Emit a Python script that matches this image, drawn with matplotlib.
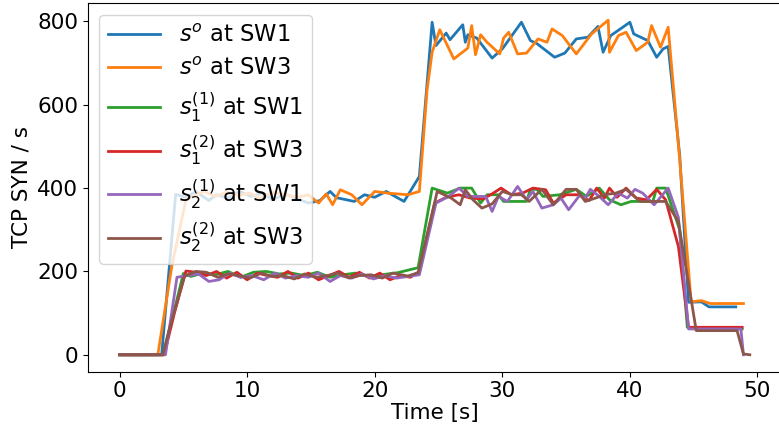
import matplotlib
matplotlib.use("Agg")
import matplotlib.pyplot as plt

# s^o at SW1
t_so_sw1 = [0, 1, 2, 3.3, 4.4, 5.2, 6.0, 7.0, 7.6, 8.5, 9.4, 10.3, 11.2, 12.0, 13.0, 13.8,
            14.8, 15.7, 16.5, 17.0, 18.4, 19.2, 20.0, 20.9, 22.3, 23.5, 24.5, 24.8, 25.6,
            25.9, 26.9, 27.1, 27.3, 28.0, 29.2, 30.0, 31.5, 32.2, 32.7, 34.1, 34.9, 35.8,
            36.7, 37.5, 37.9, 38.5, 40.0, 40.3, 41.4, 42.1, 42.6, 43.0, 43.9, 44.6, 45.6,
            46.2, 48.3]
v_so_sw1 = [0, 0, 0, 0, 385, 378, 392, 370, 384, 376, 392, 380, 388, 372, 386, 376,
            364, 370, 392, 377, 368, 384, 378, 392, 368, 428, 798, 742, 772,
            756, 792, 750, 768, 760, 712, 734, 798, 754, 747, 714, 724, 758,
            762, 788, 726, 766, 798, 770, 754, 714, 734, 740, 480, 126, 127,
            115, 115]

# s^o at SW3
t_so_sw3 = [0, 1, 2, 3.0, 4.1, 5.2, 6.6, 7.5, 8.4, 9.3, 10.2, 11.0, 12.0, 13.0, 14.0,
            14.8, 15.6, 16.2, 16.7, 17.3, 18.2, 19.0, 20.0, 21.0, 22.6, 23.5, 24.1, 24.5,
            25.1, 26.2, 27.3, 27.6, 27.9, 28.3, 28.8, 29.8, 30.1, 30.5, 31.2, 31.9, 32.8,
            33.5, 33.9, 34.7, 35.8, 37.0, 38.3, 38.4, 39.1, 39.7, 40.5, 41.4, 41.7, 42.4,
            43.0, 43.9, 44.8, 45.6, 46.3, 48.9]
v_so_sw3 = [0, 0, 0, 0, 213, 372, 392, 380, 390, 382, 388, 376, 390, 384, 378,
            384, 364, 386, 360, 396, 384, 360, 392, 388, 384, 392, 635, 726,
            780, 710, 736, 790, 720, 768, 750, 722, 760, 774, 722, 724, 758,
            750, 782, 766, 722, 770, 803, 726, 766, 774, 730, 750, 790, 738,
            786, 470, 127, 130, 123, 123]

# s_1^(1) at SW1
t_s11 = [0, 1, 2, 3.4, 4.0, 5.0, 5.6, 6.5, 7.5, 8.5, 9.5, 10.5, 11.5, 12.5, 13.5, 14.5,
         15.5, 16.5, 17.5, 18.5, 19.5, 20.5, 21.8, 23.4, 24.5, 25.7, 26.7, 27.6, 28.3,
         28.8, 29.7, 30.1, 31.9, 32.2, 32.7, 33.2, 34.5, 35.8, 36.6, 37.6, 38.4, 39.3,
         40.1, 41.8, 42.1, 42.8, 43.9, 44.5, 45.5, 48.8]
v_s11 = [0, 0, 0, 0, 70, 195, 188, 196, 192, 200, 186, 198, 200, 194, 196, 190,
         198, 186, 192, 196, 188, 192, 197, 209, 400, 388, 400, 400, 364,
         384, 384, 368, 368, 397, 397, 380, 384, 397, 380, 400, 372, 360,
         368, 368, 400, 400, 300, 66, 62, 62]

# s_1^(2) at SW3
t_s12 = [0, 1, 2, 3.5, 4.3, 5.2, 6.0, 6.8, 7.6, 8.4, 9.2, 10.0, 10.8, 11.6, 12.4, 13.2,
         14.0, 14.8, 15.6, 16.4, 17.2, 18.0, 18.8, 19.6, 20.4, 21.2, 22.0, 22.8, 23.5,
         24.7, 25.6, 26.6, 27.5, 28.5, 29.3, 29.9, 30.7, 31.6, 32.4, 33.4, 34.0, 35.0,
         36.0, 36.8, 37.4, 38.0, 38.4, 39.0, 39.7, 40.5, 41.3, 42.1, 42.8, 43.8, 44.6,
         45.6, 48.8]
v_s12 = [0, 0, 0, 0, 100, 201, 198, 190, 200, 184, 198, 180, 196, 190, 186, 200,
         184, 196, 180, 190, 200, 186, 198, 184, 196, 180, 190, 186, 200,
         364, 378, 384, 376, 374, 388, 400, 384, 388, 400, 396, 364, 384,
         384, 370, 400, 376, 400, 378, 400, 376, 372, 397, 372, 260, 66,
         66, 66]

# s_2^(1) at SW1
t_s21 = [0, 1, 2, 3.6, 4.5, 5.3, 6.2, 7.0, 7.8, 8.6, 9.5, 10.4, 11.3, 12.2, 13.0, 13.9,
         14.8, 15.6, 16.5, 17.3, 18.2, 19.0, 19.9, 20.8, 21.7, 22.6, 23.5, 24.8, 25.8,
         26.6, 27.3, 28.7, 29.2, 29.7, 30.4, 31.2, 31.9, 32.4, 33.1, 34.0, 34.6, 35.2,
         36.1, 36.5, 36.9, 37.6, 38.3, 39.1, 39.8, 40.4, 41.0, 41.9, 43.0, 43.8, 44.6,
         45.6, 48.7, 48.9]
v_s21 = [0, 0, 0, 0, 186, 190, 194, 176, 180, 196, 186, 190, 180, 196, 184, 190,
         186, 196, 176, 190, 184, 194, 182, 190, 184, 188, 192, 364, 380,
         400, 380, 380, 344, 380, 368, 404, 372, 392, 352, 360, 376, 348,
         384, 376, 397, 380, 360, 388, 376, 397, 388, 360, 400, 330, 62,
         62, 62, 0]

# s_2^(2) at SW3
t_s22 = [0, 1, 2, 3.4, 3.9, 5.1, 6.0, 6.8, 7.7, 8.5, 9.4, 10.2, 11.1, 12.0, 12.8, 13.7,
         14.5, 15.4, 16.3, 17.1, 18.0, 18.8, 19.7, 20.6, 21.4, 22.6, 23.4, 24.9, 26.0,
         26.7, 27.1, 27.7, 28.4, 29.2, 30.0, 30.8, 31.5, 32.1, 33.1, 34.0, 35.0, 35.8,
         36.5, 37.3, 38.0, 38.9, 39.7, 40.8, 42.8, 43.8, 45.2, 48.4, 48.9, 49.4]
v_s22 = [0, 0, 0, 0, 62, 189, 200, 198, 186, 194, 190, 184, 196, 188, 190, 182,
         194, 186, 190, 196, 184, 190, 192, 184, 196, 189, 197, 392, 376,
         360, 396, 372, 352, 362, 392, 384, 384, 368, 397, 360, 397, 397,
         368, 376, 384, 388, 397, 368, 368, 320, 58, 58, 2, 0]

plt.rcParams['font.size'] = 15.5

fig = plt.figure(figsize=(7.79, 4.29), dpi=100)
ax = fig.add_subplot(111)
fig.subplots_adjust(left=0.113, right=1.003, bottom=0.134, top=0.992)

ax.plot(t_so_sw1, v_so_sw1, lw=2, label=r'$s^o$ at SW1')
ax.plot(t_so_sw3, v_so_sw3, lw=2, label=r'$s^o$ at SW3')
ax.plot(t_s11, v_s11, lw=2, label=r'$s_1^{(1)}$ at SW1')
ax.plot(t_s12, v_s12, lw=2, label=r'$s_1^{(2)}$ at SW3')
ax.plot(t_s21, v_s21, lw=2, label=r'$s_2^{(1)}$ at SW1')
ax.plot(t_s22, v_s22, lw=2, label=r'$s_2^{(2)}$ at SW3')

ax.set_xlabel('Time [s]', labelpad=1)
ax.set_ylabel('TCP SYN / s')
ax.set_xticks([0, 10, 20, 30, 40, 50])
ax.set_yticks([0, 200, 400, 600, 800])
ax.legend(loc='upper left', fontsize=16.3, handlelength=2.3, labelspacing=0.45)

fig.savefig('out.png', dpi=100)
